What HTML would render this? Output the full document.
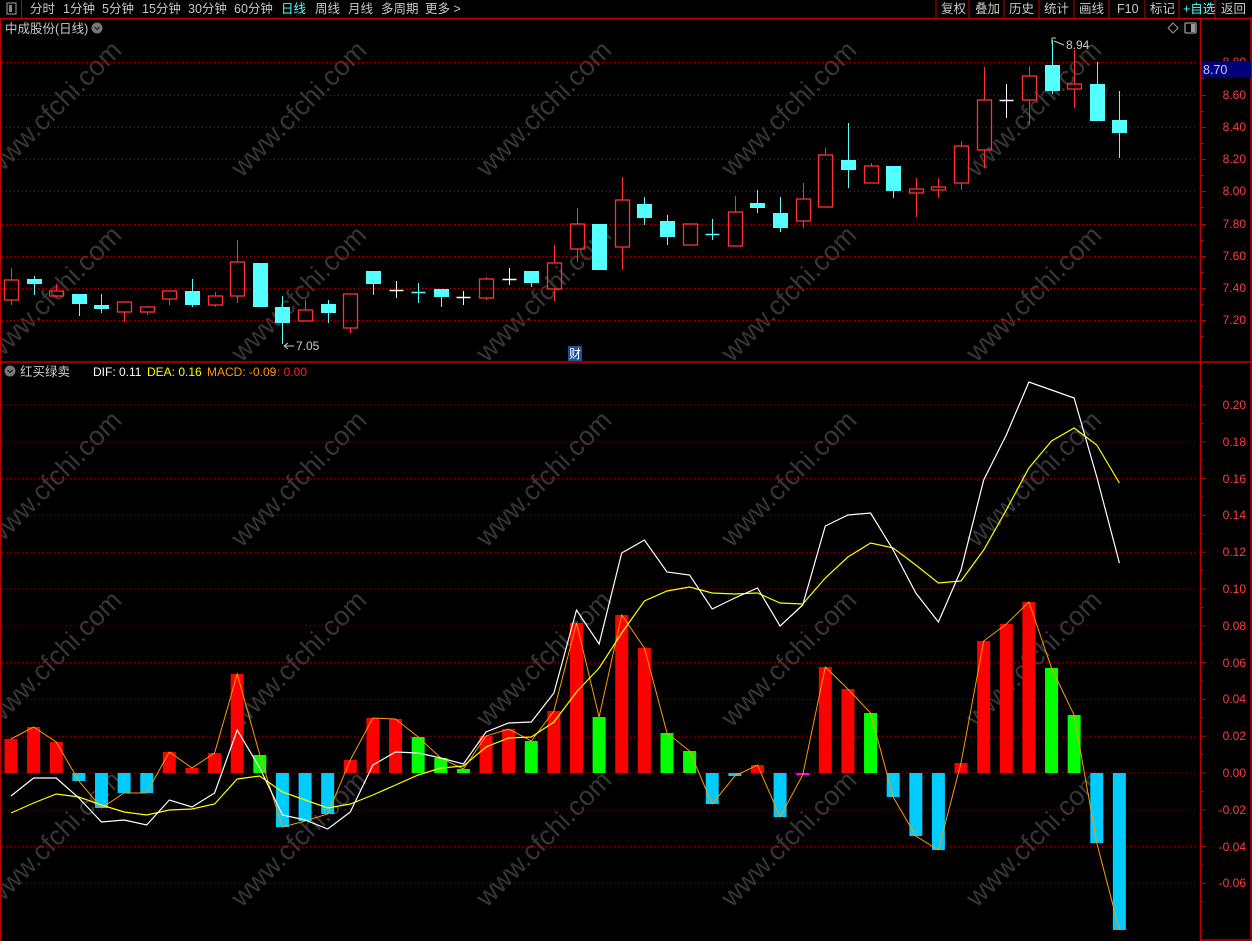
<!DOCTYPE html>
<html><head><meta charset="utf-8"><style>
html,body{margin:0;padding:0;background:#000;width:1252px;height:941px;overflow:hidden}
svg{display:block}
text{font-family:"Liberation Sans","Noto Sans CJK SC",sans-serif}
</style></head><body>
<svg id="s" width="1252" height="941" xmlns="http://www.w3.org/2000/svg">
<rect width="1252" height="941" fill="#000"/>
<g id="wm" fill="#363636" font-size="27"></g>
<g id="grid"></g>
<g id="cd"></g>
<g id="mc"></g>
<line x1="0" y1="18.5" x2="1252" y2="18.5" stroke="#c00000" stroke-width="1.5"/>
<line x1="21.5" y1="0" x2="21.5" y2="18" stroke="#c00000"/>
<line x1="1200.5" y1="18" x2="1200.5" y2="941" stroke="#c00000" stroke-width="1.5"/>
<line x1="0" y1="362" x2="1252" y2="362" stroke="#c00000" stroke-width="1.5"/>
<line x1="1251" y1="18" x2="1251" y2="941" stroke="#c00000" stroke-width="1.5"/>
<line x1="1200" y1="940" x2="1252" y2="940" stroke="#c00000" stroke-width="1.5"/>
<line x1="0.5" y1="18" x2="0.5" y2="941" stroke="#c00000"/>
<g stroke="#c00000"><line x1="936" y1="0" x2="936" y2="18"/><line x1="969" y1="0" x2="969" y2="18"/><line x1="1004" y1="0" x2="1004" y2="18"/><line x1="1039" y1="0" x2="1039" y2="18"/><line x1="1074" y1="0" x2="1074" y2="18"/><line x1="1109" y1="0" x2="1109" y2="18"/><line x1="1145" y1="0" x2="1145" y2="18"/><line x1="1179" y1="0" x2="1179" y2="18"/><line x1="1215" y1="0" x2="1215" y2="18"/></g>
<rect x="7" y="3" width="9" height="11" fill="none" stroke="#888" stroke-width="1.2"/><rect x="9" y="5" width="3" height="7" fill="#888"/>
<g font-size="12.5" fill="#c8c8c8">
<text x="30" y="13">分时</text><text x="63" y="13">1分钟</text><text x="102" y="13">5分钟</text><text x="142" y="13">15分钟</text><text x="188" y="13">30分钟</text><text x="234" y="13">60分钟</text><text x="281" y="13" fill="#54ffff">日线</text><text x="315" y="13">周线</text><text x="348" y="13">月线</text><text x="381" y="13">多周期</text><text x="425" y="13">更多 &gt;</text>
<text x="941" y="13">复权</text><text x="975" y="13">叠加</text><text x="1009" y="13">历史</text><text x="1044" y="13">统计</text><text x="1079" y="13">画线</text><text x="1117" y="13">F10</text><text x="1150" y="13">标记</text><text x="1183" y="13" fill="#54ffff">+自选</text><text x="1221" y="13">返回</text>
<text x="5" y="33">中成股份(日线)</text>
<text x="20" y="376">红买绿卖</text>
</g>
<circle cx="97" cy="28" r="5.5" fill="#777"/><path d="M94.5 27 L97 29.5 L99.5 27" stroke="#222" fill="none" stroke-width="1.3"/>
<circle cx="10" cy="371" r="5.5" fill="#777"/><path d="M7.5 370 L10 372.5 L12.5 370" stroke="#222" fill="none" stroke-width="1.3"/>
<path d="M1173 23 L1178 28 L1173 33 L1168 28 Z" fill="none" stroke="#999"/>
<rect x="1185" y="23" width="11" height="10" fill="none" stroke="#999" stroke-width="1.3" rx="1"/><rect x="1191" y="24" width="4" height="8" fill="#999"/>
<g font-size="12">
<text x="93" y="376" fill="#fff">DIF: 0.11</text><text x="147" y="376" fill="#ffff00">DEA: 0.16</text><text x="207" y="376" fill="#ff9900">MACD: -0.09</text><text x="277" y="376" fill="#ff2020">: 0.00</text>
</g>
<g font-size="12" fill="#ff3c3c" text-anchor="end" id="ax">
<text x="1246" y="66">8.80</text>
<text x="1246" y="99">8.60</text><text x="1246" y="131">8.40</text><text x="1246" y="163">8.20</text><text x="1246" y="195">8.00</text><text x="1246" y="228">7.80</text><text x="1246" y="260">7.60</text><text x="1246" y="292">7.40</text><text x="1246" y="324">7.20</text>
<text x="1246" y="409">0.20</text><text x="1246" y="446">0.18</text><text x="1246" y="483">0.16</text><text x="1246" y="519">0.14</text><text x="1246" y="556">0.12</text><text x="1246" y="593">0.10</text><text x="1246" y="630">0.08</text><text x="1246" y="667">0.06</text><text x="1246" y="703">0.04</text><text x="1246" y="740">0.02</text><text x="1246" y="777">0.00</text><text x="1246" y="814">-0.02</text><text x="1246" y="851">-0.04</text><text x="1246" y="887">-0.06</text>
</g>
<rect x="1201" y="61" width="50" height="16" fill="#00007a"/>
<text x="1203" y="74" font-size="12.5" fill="#c8c8ff">8.70</text>
<path d="M1052 38 L1052 44 M1052 38 L1056 38 M1054 41 L1064 45" stroke="#ccc" fill="none"/>
<text x="1066" y="49" font-size="12" fill="#ccc">8.94</text>
<path d="M284 346 L294 346 M284 346 L288 343 M284 346 L288 349" stroke="#ccc" fill="none"/>
<text x="296" y="350" font-size="12" fill="#ccc">7.05</text>
<rect x="568" y="346" width="14" height="15" fill="#1e4f9a"/>
<text x="569" y="358" font-size="12" fill="#fff">财</text>
</svg>
<script>
var NS="http://www.w3.org/2000/svg";
function el(p,t,a,txt){var e=document.createElementNS(NS,t);for(var k in a)e.setAttribute(k,a[k]);if(txt)e.textContent=txt;document.getElementById(p).appendChild(e);return e;}
function X(i){return 11+22.62*i;}
var wx=[60,305,550,795,1040],wy=[115,300,485,665,845];
wx.forEach(function(x){wy.forEach(function(y){el("wm","text",{x:x,y:y,"text-anchor":"middle",transform:"rotate(-45 "+x+" "+y+")"},"www.cfchi.com");});});
var pr=[62,95,127,159,191,224,256,288,320];
pr.forEach(function(y){el("grid","line",{x1:2,y1:y+.5,x2:1196,y2:y+.5,stroke:"#b00000","stroke-dasharray":"1 3"});
el("grid","line",{x1:1200,y1:y+.5,x2:1206,y2:y+.5,stroke:"#c00000"});
el("grid","line",{x1:1200,y1:y+16.5,x2:1204,y2:y+16.5,stroke:"#c00000"});});
for(var k=0;k<14;k++){var v=0.2-0.02*k;var y=773-v*1840;
el("grid","line",{x1:2,y1:y,x2:1196,y2:y,stroke:"#b00000","stroke-dasharray":"1 3"});
el("grid","line",{x1:1200,y1:y,x2:1206,y2:y,stroke:"#c00000"});
el("grid","line",{x1:1200,y1:y+18.4,x2:1204,y2:y+18.4,stroke:"#c00000"});}
el("grid","line",{x1:1200,y1:386.6,x2:1204,y2:386.6,stroke:"#c00000"});
var C=[[280,300,268,305,"r"],[279,284,276,295,"c"],[291,296,284,297,"r"],[294,304,294,316,"c"],[305,309,294,313,"c"],[302,312,302,322,"r"],[307,312,306,315,"r"],[291,299,291,305,"r"],[291,305,279,307,"c"],[296,305,292,307,"r"],[262,296,240,303,"r"],[263,307,263,307,"c"],[307,323,296,344,"c"],[310,321,300,321,"r"],[304,313,300,323,"c"],[294,328,294,333,"r"],[271,284,271,295,"c"],[290,290,281,298,"w"],[292,292,283,303,"cc"],[289,297,289,307,"c"],[297,297,291,305,"w"],[279,298,277,300,"r"],[279,279,268,285,"w"],[271,283,271,287,"c"],[263,289,245,301,"r"],[224,249,208,262,"r"],[224,270,224,270,"c"],[200,247,177,270,"r"],[204,218,197,225,"c"],[221,237,215,245,"c"],[224,245,224,245,"r"],[234,236,219,240,"cc"],[212,246,196,246,"r"],[203,208,190,213,"c"],[213,228,197,232,"c"],[199,221,183,228,"r"],[155,207,148,207,"r"],[160,170,123,188,"c"],[166,183,163,183,"r"],[166,191,166,198,"c"],[189,193,178,217,"r"],[187,190,178,198,"r"],[146,183,141,190,"r"],[100,150,67,168,"r"],[100,100,84,118,"w"],[76,100,66,125,"r"],[65,91,40,94,"c"],[84,89,50,108,"r"],[84,121,62,121,"c"],[120,133,91,158,"c"]];
C.forEach(function(c,i){var x=Math.round(X(i))+.5;var t=c[4];
if(t=="r"){el("cd","line",{x1:x,y1:c[2],x2:x,y2:c[0],stroke:"#ff3232"});el("cd","line",{x1:x,y1:c[1],x2:x,y2:c[3],stroke:"#ff3232"});
el("cd","rect",{x:x-7,y:c[0],width:14,height:Math.max(c[1]-c[0],2),fill:"none",stroke:"#ff3232","stroke-width":1.3});}
else if(t=="c"){el("cd","line",{x1:x,y1:c[2],x2:x,y2:c[3],stroke:"#54ffff"});el("cd","rect",{x:x-7.5,y:c[0],width:15,height:Math.max(c[1]-c[0],2),fill:"#54ffff"});}
else{var col=t=="w"?"#fff":"#54ffff";el("cd","line",{x1:x,y1:c[2],x2:x,y2:c[3],stroke:col});el("cd","line",{x1:x-7,y1:c[0]+.5,x2:x+7,y2:c[0]+.5,stroke:col,"stroke-width":1.5});}
});
var M=[[739,"r"],[727,"r"],[742,"r"],[781,"b"],[808,"b"],[793,"b"],[793,"b"],[752,"r"],[768,"r"],[753,"r"],[674,"r"],[755,"g"],[827,"b"],[821,"b"],[814,"b"],[760,"r"],[718,"r"],[719,"r"],[737,"g"],[758,"g"],[769,"g"],[736,"r"],[729,"r"],[741,"g"],[711,"r"],[623,"r"],[717,"g"],[615,"r"],[648,"r"],[733,"g"],[751,"g"],[804,"b"],[776,"b"],[765,"r"],[817,"b"],[775,"m"],[667,"r"],[689,"r"],[713,"g"],[797,"b"],[836,"b"],[850,"b"],[763,"r"],[641,"r"],[624,"r"],[602,"r"],[668,"g"],[715,"g"],[843,"b"],[930,"b"]];
var cols={r:"#ff0000",g:"#00ff00",b:"#00ccff",m:"#ff00ff"};
var op="";
M.forEach(function(m,i){var x=X(i);var y=m[0];var t=Math.min(y,773),b=Math.max(y,773);
el("mc","rect",{x:x-6.5,y:t,width:13,height:Math.max(b-t,1.5),fill:cols[m[1]]});op+=(i?"L":"M")+x.toFixed(1)+" "+y+" ";});
var D=[796,778,778,798,822,820,825,800,807,793,730,768,815,820,829,812,765,752,753,758,764,732,723,722,693,610,644,553,540,572,575,609,598,588,626,605,526,515,513,550,593,622,570,480,435,382,390,398,477,563];
var E=[813,803,794,797,805,812,815,810,809,804,779,776,792,800,808,804,795,785,775,768,766,747,738,737,722,692,668,633,601,591,587,593,594,593,603,604,578,557,543,548,565,583,581,550,510,468,441,428,445,483];
function pth(a){return a.map(function(y,i){return (i?"L":"M")+X(i).toFixed(1)+" "+y;}).join(" ");}
el("mc","path",{d:op,stroke:"#ff9900",fill:"none","stroke-width":1});
el("mc","path",{d:pth(E),stroke:"#ffff00",fill:"none","stroke-width":1.2});
el("mc","path",{d:pth(D),stroke:"#ffffff",fill:"none","stroke-width":1.2});
</script>
</body></html>
